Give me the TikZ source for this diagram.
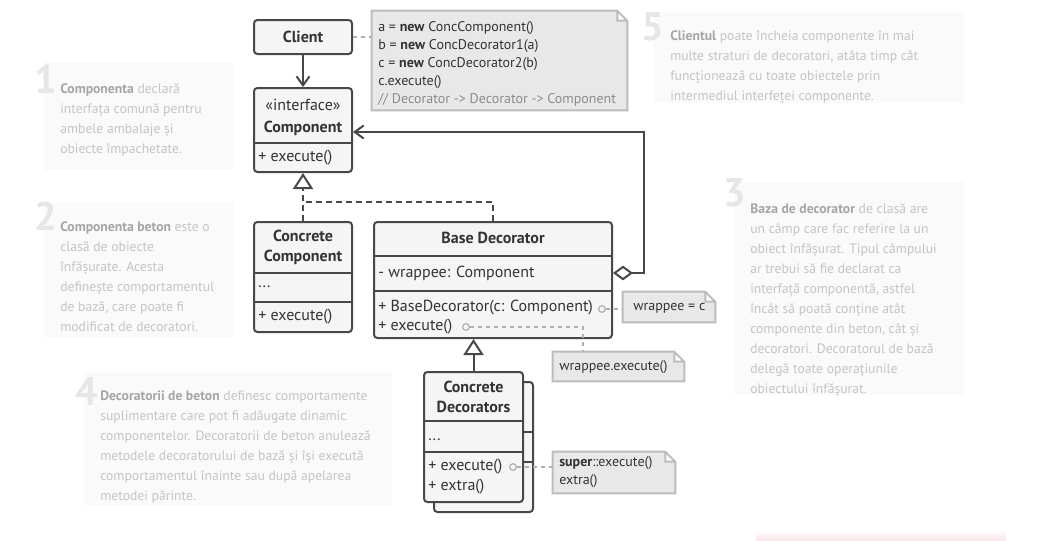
\documentclass[tikz,border=0pt]{standalone}
\usepackage{fontspec}
\setmainfont{PT Sans}
\usetikzlibrary{arrows.meta,fit}

\definecolor{umlline}{RGB}{72,72,72}
\definecolor{umlfill}{RGB}{245,245,245}
\definecolor{umltext}{RGB}{51,51,51}
\definecolor{notefill}{RGB}{232,232,232}
\definecolor{noteline}{RGB}{188,188,188}
\definecolor{linkgray}{RGB}{175,175,175}
\definecolor{commentgray}{RGB}{140,140,140}
\definecolor{desctext}{RGB}{196,196,196}
\definecolor{descbold}{RGB}{165,165,165}
\definecolor{numgray}{RGB}{230,230,230}
\definecolor{descbg}{RGB}{250,250,250}
\definecolor{pinkbar}{RGB}{250,232,236}

\newcommand\umlsize{\fontsize{12pt}{15pt}\selectfont}
\newcommand\descword[1]{\textcolor{descbold}{\textbf{#1}}}
\newcommand\foldnote[1]{%
  \draw[foldline] (#1.south west) -- (#1.north west) -- ([xshift=-7.5pt]#1.north east)
    -- ([yshift=-7.5pt]#1.north east) -- (#1.south east) -- cycle
    ([xshift=-7.5pt]#1.north east) |- ([yshift=-7.5pt]#1.north east);}

\tikzset{
  cls/.style={draw=umlline, fill=umlfill, line width=1.5pt, rounded corners=2.5pt, inner sep=0pt},
  clsname/.style={font=\umlsize\bfseries, text=umltext, align=center, inner sep=0pt},
  member/.style={anchor=west, text=umltext, inner sep=0pt},
  divider/.style={draw=umlline, line width=1.5pt},
  notearea/.style={inner sep=0pt},
  foldline/.style={draw=noteline, fill=notefill, line width=1.5pt},
  notetext/.style={anchor=north west, text=umltext, align=left, inner sep=0pt, font=\fontsize{10.5pt}{13.5pt}\selectfont},
  notemember/.style={member, font=\fontsize{10.5pt}{13.5pt}\selectfont},
  notelink/.style={draw=linkgray, line width=1.1pt, dash pattern=on 3pt off 3pt},
  port/.style={circle, draw=linkgray, fill=umlfill, line width=0.9pt, minimum size=5pt, inner sep=0pt},
  uses/.style={draw=umlline, line width=1.5pt, -{Straight Barb[length=6.75pt,width=9.75pt]}},
  realize/.style={draw=umlline, line width=1.5pt, dash pattern=on 4.5pt off 3pt},
  inherit/.style={draw=umlline, line width=1.5pt, -{Triangle[open,fill=white,length=12pt,width=15pt]}},
  aggr/.style={draw=umlline, line width=1.5pt, {Diamond[open,fill=white,length=15pt,width=11pt]}-{Straight Barb[length=6.75pt,width=9.75pt]}},
  panel/.style={fill=descbg},
  descnum/.style={anchor=base east, inner sep=0pt, text=numgray, font=\fontsize{30pt}{30pt}\selectfont\bfseries},
  desc/.style={anchor=north west, inner sep=0pt, align=left, text=desctext, font=\fontsize{10.25pt}{15pt}\selectfont},
}

\begin{document}
\begin{tikzpicture}[x=0.75pt, y=-0.75pt, font=\umlsize]
  \useasboundingbox (0,0) rectangle (1037,540);

  % notes on the side
  \fill[panel] (654,12) rectangle (964,103);
  \node[descnum] (n5) at (664,40) {5};
  \node[desc] (d5) at (670,30) {\descword{Clientul} poate încheia componente în mai\\multe straturi de decoratori, atâta timp cât\\funcționează cu toate obiectele prin\\intermediul interfeței componente.};

  \fill[panel] (44,62) rectangle (233,170);
  \node[descnum] (n1) at (57,93) {1};
  \node[desc] (d1) at (60,83) {\descword{Componenta} declară\\interfața comună pentru\\ambele ambalaje și\\obiecte împachetate.};

  \fill[panel] (44,202) rectangle (233,337);
  \node[descnum] (n2) at (57,230) {2};
  \node[desc] (d2) at (60,221) {\descword{Componenta beton} este o\\clasă de obiecte\\înfășurate. Acesta\\definește comportamentul\\de bază, care poate fi\\modificat de decoratori.};

  \fill[panel] (734,182) rectangle (964,395);
  \node[descnum] (n3) at (746,206) {3};
  \node[desc] (d3) at (750,203) {\descword{Baza de decorator} de clasă are\\un câmp care fac referire la un\\obiect înfășurat. Tipul câmpului\\ar trebui să fie declarat ca\\interfață componentă, astfel\\încât să poată conține atât\\componente din beton, cât și\\decoratori. Decoratorul de bază\\delegă toate operațiunile\\obiectului înfășurat.};

  \fill[panel] (84,372) rectangle (392,505);
  \node[descnum] (n4) at (98,405) {4};
  \node[desc] (d4) at (100,391) {\descword{Decoratorii de beton} definesc comportamente\\suplimentare care pot fi adăugate dinamic\\componentelor. Decoratorii de beton anulează\\metodele decoratorului de bază și își execută\\comportamentul înainte sau după apelarea\\metodei părinte.};

  \shade[top color=pinkbar!30, bottom color=pinkbar] (756,532) rectangle (1006,540);

  % client
  \node[cls, fit={(254,20) (352,54)}] (client) {};
  \node[clsname] (clientname) at (client.center) {Client};
  \node[notearea, fit={(372,11) (627,110)}] (code) {};
  \foldnote{code}
  \node[notetext] (codetext) at (378,21) {a = \textbf{new} ConcComponent()\\b = \textbf{new} ConcDecorator1(a)\\c = \textbf{new} ConcDecorator2(b)\\c.execute()\\\textcolor{commentgray}{// Decorator -> Decorator -> Component}};
  \draw[notelink] (client.east) -- (code.west |- client.east);

  % component
  \node[cls, fit={(254,88) (352,172)}] (comp) {};
  \node[inner sep=0pt, text=umltext] (stereo) at (303,105) {«interface»};
  \node[clsname] (compname) at (303,128) {Component};
  \node[member] (compexec) at (258,158) {+ execute()};
  \draw[uses] (client) -- (comp);

  \node[cls, fit={(254,222) (352,332)}] (ccomp) {};
  \node[clsname] (ccompname) at (303,247) {Concrete\\Component};
  \node[member] (ccdots) at (258,287) {...};
  \node[member] (ccexec) at (258,317) {+ execute()};

  % base decorator
  \node[cls, fit={(374,222) (612,338)}] (basedec) {};
  \node[clsname] (basename) at (493,238) {Base Decorator};
  \node[member] (wrapfld) at (378,273) {- wrappee: Component};
  \node[member] (bdctor) at (378,308) {+ BaseDecorator(c: Component)};
  \node[member] (bdexec) at (378,327) {+ execute()};
  \foreach \n/\y in {comp/143, ccomp/273, ccomp/302, basedec/256, basedec/291}
    \draw[divider] (\n.west |- 0,\y) -- (\n.east |- 0,\y);

  \node[port] (pctor) at (602,309) {};
  \node[port] (pexec) at (466,327) {};
  \node[notearea, fit={(623,292) (715,322)}] (wrapc) {};
  \foldnote{wrapc}
  \node[notemember] (wrapctext) at (633,308) {wrappee = c};
  \node[notearea, fit={(553,352) (684,381)}] (wexec) {};
  \foldnote{wexec}
  \node[notemember] (wexectext) at (559,367) {wrappee.execute()};
  \draw[notelink] (pctor) -- (wrapc.west |- pctor);
  \coordinate (bend) at (583,327);
  \draw[notelink] (pexec) -- (bend) -- (wexec.north -| bend);

  \draw[realize, inherit] (ccomp.north) -- (comp.south);
  \draw[realize] (basedec.north) |- (ccomp.north |- 0,202);
  \draw[aggr] (basedec.east |- wrapfld) -- ++(31,0) |- (comp.east |- 0,132);

  % concrete decorators
  \node[cls, fit={(434,382) (533,512)}] (cdecback) {};
  \foreach \y in {432, 462}
    \draw[divider] (cdecback.west |- 0,\y) -- (cdecback.east |- 0,\y);
  \node[cls, fit={(424,372) (523,502)}] (cdec) {};
  \foreach \y in {421, 452}
    \draw[divider] (cdec.west |- 0,\y) -- (cdec.east |- 0,\y);
  \node[clsname] (cdecname) at (473.5,397) {Concrete\\Decorators};
  \node[member] (cddots) at (428,440) {...};
  \node[member] (cdexec) at (428,467) {+ execute()};
  \node[member] (cdextra) at (428,487) {+ extra()};
  \draw[inherit] (cdec.north) -- (basedec.south -| cdec.north);

  \node[port] (pcd) at (513,467) {};
  \node[notearea, fit={(553,452) (675,493)}] (supernote) {};
  \foldnote{supernote}
  \node[notetext] (supertext) at (559,456) {\textbf{super}::execute()\\extra()};
  \draw[notelink] (pcd) -- (supernote.west |- pcd);
\end{tikzpicture}
\end{document}
